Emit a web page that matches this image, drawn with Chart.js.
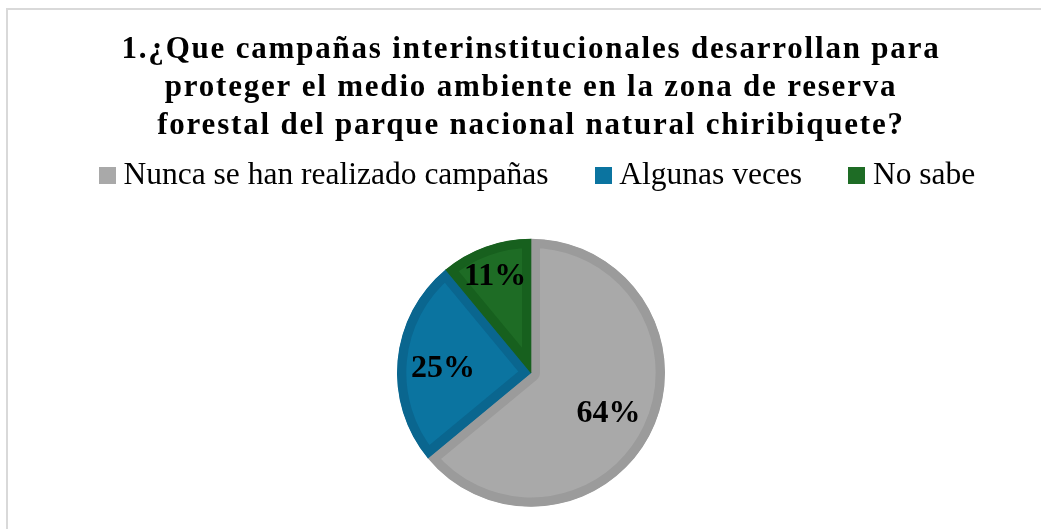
<!DOCTYPE html>
<html>
<head>
<meta charset="utf-8">
<script src="https://cdn.jsdelivr.net/npm/chart.js@4"></script>
<style>
  html, body { margin: 0; padding: 0; background: #fff; overflow: hidden; width: 1041px; height: 529px; }
  .frame { position: absolute; left: 6px; top: 8px; width: 1100px; height: 600px; border: 2px solid #d9d9d9; border-right: none; border-bottom: none; }
  .chart-box { position: absolute; left: 7px; top: 10px; width: 1048px; height: 540px; }
</style>
</head>
<body>
<div class="frame"></div>
<div class="chart-box"><canvas id="pieChart"></canvas></div>
<script>
const titleLines = [
  "1.¿Que campañas interinstitucionales desarrollan para",
  "proteger el medio ambiente en la zona de reserva",
  "forestal del parque nacional natural chiribiquete?"
];
const categories = ["Nunca se han realizado campañas", "Algunas veces", "No sabe"];
const values = [64, 25, 11];
const fillColors = ["#a9a9a9", "#0b74a0", "#1e6c25"];
const edgeColors = ["#9b9b9b", "#0a668f", "#17601e"];

const serif = "'Liberation Serif', 'Times New Roman', serif";

// small square swatches for the legend
const swatches = fillColors.map((c) => {
  const cv = document.createElement("canvas");
  cv.width = 17;
  cv.height = 17;
  const g = cv.getContext("2d");
  g.fillStyle = c;
  g.fillRect(0, 0, 17, 17);
  return cv;
});

// percent labels inside the slices
const sliceLabels = {
  id: "sliceLabels",
  afterLayout(chart) {
    // legend sits a bit right of the title in the original
    chart.legend.left += 10;
    chart.legend.right += 10;
    // wider letter spacing on the title
    const tb = chart.titleBlock;
    if (tb && !tb._spaced) {
      const origDraw = tb.draw.bind(tb);
      tb.draw = function () {
        const c = this.ctx;
        c.save();
        c.letterSpacing = "1.8px";
        origDraw();
        c.restore();
      };
      tb._spaced = true;
    }
  },
  afterDatasetsDraw(chart) {
    const ctx = chart.ctx;
    const meta = chart.getDatasetMeta(0);
    const total = values.reduce((a, b) => a + b, 0);
    const offsets = [0.64, 0.66, 0.79];
    ctx.save();
    ctx.font = "bold 32px " + serif;
    ctx.fillStyle = "#000";
    ctx.textAlign = "center";
    ctx.textBaseline = "middle";
    meta.data.forEach((arc, i) => {
      const p = arc.getProps(["x", "y", "startAngle", "endAngle", "outerRadius"], true);
      const mid = (p.startAngle + p.endAngle) / 2;
      const r = p.outerRadius * offsets[i];
      const label = Math.round((values[i] / total) * 100) + "%";
      ctx.fillText(label, p.x + Math.cos(mid) * r, p.y + Math.sin(mid) * r + 4);
    });
    ctx.restore();
  }
};

const ctx = document.getElementById("pieChart").getContext("2d");
const pieChart = new Chart(ctx, {
  type: "pie",
  data: {
    labels: categories,
    datasets: [
      {
        data: values,
        backgroundColor: fillColors,
        borderColor: edgeColors,
        borderWidth: 9,
        borderAlign: "inner",
        radius: 134,
      },
    ],
  },
  options: {
    responsive: true,
    maintainAspectRatio: false,
    animation: false,
    events: [],
    layout: {
      padding: { top: 0, bottom: 6, left: 0, right: 0 },
    },
    plugins: {
      title: {
        display: true,
        text: titleLines,
        color: "#000",
        font: { family: serif, size: 31, weight: "bold", lineHeight: 1.2258 },
        padding: { top: 21, bottom: -39 },
      },
      legend: {
        display: true,
        position: "top",
        labels: {
          color: "#000",
          font: { family: serif, size: 31.5 },
          usePointStyle: true,
          pointStyleWidth: 1,
          boxHeight: 17,
          padding: 54,
          generateLabels() {
            return categories.map((name, i) => ({
              text: name,
              fillStyle: fillColors[i],
              strokeStyle: fillColors[i],
              lineWidth: 0,
              pointStyle: swatches[i],
              fontColor: "#000",
              hidden: false,
              index: i,
            }));
          },
        },
      },
      tooltip: { enabled: false },
    },
  },
  plugins: [sliceLabels],
});
</script>
</body>
</html>
